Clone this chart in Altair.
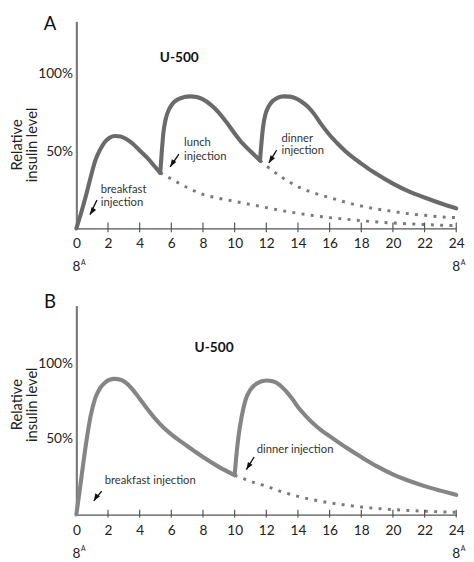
import altair as alt
import pandas as pd

# ---------------- data ----------------
hour_ticks = [2, 4, 6, 8, 10, 12, 14, 16, 18, 20, 22, 24]
hour_labels = [0, 2, 4, 6, 8, 10, 12, 14, 16, 18, 20, 22, 24]
pct_labels = [50, 100]

# Panel A: solid curve, three segments (breakfast, lunch, dinner)
a_seg1_x = [0, 0.3, 0.6, 0.9, 1.2, 1.5, 1.8, 2.1, 2.45, 2.8, 3.2, 3.6, 4.0, 4.5, 5.0, 5.3]
a_seg1_y = [0, 10, 21, 33, 44, 51, 56, 58.7, 59.8, 59.5, 57.5, 54.5, 50.5, 45.5, 39.5, 36]
a_seg2_x = [5.3, 5.4, 5.5, 5.65, 5.85, 6.1, 6.4, 6.8, 7.2, 7.6, 8.0, 8.5, 9.0, 9.5, 10.0, 10.5, 11.0, 11.6]
a_seg2_y = [36, 50, 62, 71, 77, 81, 83.5, 85, 85.5, 85, 83.5, 80, 75, 68.5, 61.5, 55, 50, 44]
a_seg3_x = [11.6, 11.7, 11.8, 11.95, 12.15, 12.4, 12.7, 13.1, 13.5, 13.9, 14.3, 14.7, 15.1, 15.5,
            16, 16.5, 17, 18, 19, 20, 21, 22, 23, 24]
a_seg3_y = [44, 56, 66, 74, 79, 82.5, 84.5, 85.5, 85.3, 84, 81.5, 78, 73, 67,
            60.5, 55, 50, 42, 35, 29, 24, 20, 16.3, 13]
# Panel A: dotted decay curves
a_dot1_x = [5.3, 6, 7, 8, 9, 10, 11, 12, 13, 14, 15, 16, 17, 18, 19, 20, 21, 22, 23, 24]
a_dot1_y = [36, 32, 26.5, 22, 19.5, 17.5, 15.5, 13.5, 11.5, 9.8, 8.3, 7, 6, 5, 4.2, 3.5, 3, 2.5, 2.1, 1.8]
a_dot2_x = [11.6, 12, 13, 14, 15, 16, 17, 18, 19, 20, 21, 22, 23, 24]
a_dot2_y = [44, 40.5, 33, 27, 23, 20, 17, 14.5, 12.5, 11, 9.5, 8.5, 7.5, 7]

# Panel B: solid curve, two segments (breakfast, dinner)
b_seg1_x = [0, 0.3, 0.6, 0.9, 1.2, 1.5, 1.8, 2.1, 2.4, 2.8, 3.2, 3.6, 4.0, 4.5, 5.0, 5.5,
            6, 6.5, 7, 7.5, 8, 9, 10]
b_seg1_y = [0, 23, 46, 65, 77, 83.5, 87, 89, 89.6, 89, 86.5, 82, 76.5, 69.5, 63, 57.5,
            53, 49, 45.3, 41.6, 38, 31.5, 26]
b_seg2_x = [10, 10.1, 10.25, 10.45, 10.7, 11.0, 11.4, 12.0, 12.4, 12.8, 13.2, 13.6, 14, 14.5,
            15, 15.5, 16, 17, 18, 19, 20, 21, 22, 23, 24]
b_seg2_y = [26, 38, 52, 65, 76, 82.5, 86.5, 88.5, 88, 86, 82, 77, 71, 65,
            59.8, 55.5, 51.8, 44.6, 38, 31.8, 26.5, 22.3, 18.8, 15.8, 13]
b_dot_x = [10, 11, 12, 13, 14, 15, 16, 17, 18, 19, 20, 21, 22, 23, 24]
b_dot_y = [26, 22, 18.7, 15, 12, 9.7, 7.8, 6.3, 5, 4, 3.3, 2.7, 2.2, 1.8, 1.5]

# Annotations
a_note_text = ["breakfast", "injection", "lunch", "injection", "dinner", "injection"]
a_note_x = [1.54, 1.54, 6.8, 6.8, 12.96, 12.96]
a_note_y = [24.7, 16.5, 55, 46, 58, 50]
a_arrow_x = [1.3, 6.48, 12.65]
a_arrow_y = [18.4, 48.1, 50.6]
a_arrow_x2 = [0.86, 5.93, 12.16]
a_arrow_y2 = [8.9, 39.9, 42.4]

b_note_text = ["breakfast injection", "dinner injection"]
b_note_x = [1.79, 11.4]
b_note_y = [22, 42.6]
b_arrow_x = [1.6, 11.23]
b_arrow_y = [15.5, 38]
b_arrow_x2 = [1.1, 10.74]
b_arrow_y2 = [9, 29.7]

FONT = "Lato"
ARROW = "M0,0 L0.55,1.5 L-0.55,1.5 Z"


def segs(*pairs):
    rows = []
    for i, (xs, ys) in enumerate(pairs):
        rows += [{"x": x, "y": y, "s": i} for x, y in zip(xs, ys)]
    return pd.DataFrame(rows)


def panel(solid, dots, notes, arrows, ymax, height, solid_color, u500, letter,
          letter_y, eight_y, tick_lo, tick_hi, title_y):
    xscale = alt.Scale(domain=[0, 24], nice=False, zero=False)
    yscale = alt.Scale(domain=[0, ymax], nice=False)
    xenc = alt.X("x:Q", scale=xscale,
                 axis=alt.Axis(values=hour_labels, ticks=False, grid=False, title=None,
                               labelFontSize=14, labelFont=FONT, labelColor="#222",
                               labelPadding=9, domainColor="#555", domainWidth=1.2,
                               labelFlush=False, labelOverlap=False, labelBound=False))
    yenc = alt.Y("y:Q", scale=yscale,
                 axis=alt.Axis(values=pct_labels, labelExpr="datum.value + '%'",
                               ticks=False, grid=False, labelFontSize=14, labelFont=FONT,
                               labelColor="#222", labelPadding=4, domainColor="#7a7a7a",
                               domainWidth=2.2, title=["Relative", "insulin level"],
                               titleFont=FONT, titleFontSize=15, titleFontWeight="normal",
                               titleColor="#222", titleLineHeight=15, titleX=-61,
                               titleY=title_y, titleAngle=-90, titleAlign="center",
                               titleBaseline="middle"))

    dotted = alt.Chart(dots).mark_line(
        color="#7a7a7a", strokeWidth=3, strokeDash=[3, 6.5], interpolate="monotone"
    ).encode(x=xenc, y=yenc, detail="s:N")

    curve = alt.Chart(solid).mark_line(
        color=solid_color, strokeWidth=4.2, interpolate="monotone",
        strokeCap="round", strokeJoin="round"
    ).encode(x=xenc, y=yenc, detail="s:N")

    ticks = alt.Chart(pd.DataFrame({"x": hour_ticks})).transform_calculate(
        y=str(tick_lo), y2=str(tick_hi)
    ).mark_rule(color="#555", strokeWidth=1.2).encode(x=xenc, y=yenc, y2="y2:Q")

    note = alt.Chart(notes).mark_text(
        align="left", baseline="middle", font=FONT, fontSize=11.5, color="#333"
    ).encode(x=xenc, y=yenc, text="t:N")

    arrow_line = alt.Chart(arrows).mark_rule(color="#111", strokeWidth=1.4).encode(
        x=xenc, y=yenc, x2="x2:Q", y2="y2:Q")
    tips = pd.DataFrame({"x": arrows["x2"], "y": arrows["y2"]})
    arrow_head = alt.Chart(tips).mark_point(
        shape=ARROW, filled=True, color="#111", size=100, angle=212, opacity=1
    ).encode(x=xenc, y=yenc)

    u = alt.Chart(pd.DataFrame({"x": [u500[0]], "y": [u500[1]], "t": ["U-500"]})).mark_text(
        font=FONT, fontSize=14, fontWeight="bold", color="#111"
    ).encode(x=xenc, y=yenc, text="t:N")

    lab = alt.Chart(pd.DataFrame({"x": [-1.67], "y": [letter_y], "t": [letter]})).mark_text(
        font=FONT, fontSize=19, color="#111", baseline="top"
    ).encode(x=xenc, y=yenc, text="t:N")

    eights = pd.DataFrame({"x": [0, 24], "y": [eight_y, eight_y]})
    e8 = alt.Chart(eights).mark_text(font=FONT, fontSize=14, color="#222").encode(
        x=xenc, y=yenc, text=alt.value("8"))
    eA = alt.Chart(eights).mark_text(font=FONT, fontSize=7, color="#222", dx=7, dy=-5).encode(
        x=xenc, y=yenc, text=alt.value("A"))

    return alt.layer(dotted, curve, ticks, note, arrow_line, arrow_head, u, e8, eA,
                     lab).properties(width=389, height=height)


dfA_solid = segs((a_seg1_x, a_seg1_y), (a_seg2_x, a_seg2_y), (a_seg3_x, a_seg3_y))
dfA_dots = segs((a_dot1_x, a_dot1_y), (a_dot2_x, a_dot2_y))
dfA_notes = pd.DataFrame({"x": a_note_x, "y": a_note_y, "t": a_note_text})
dfA_arrows = pd.DataFrame({"x": a_arrow_x, "y": a_arrow_y, "x2": a_arrow_x2, "y2": a_arrow_y2})

dfB_solid = segs((b_seg1_x, b_seg1_y), (b_seg2_x, b_seg2_y))
dfB_dots = segs((b_dot_x, b_dot_y))
dfB_notes = pd.DataFrame({"x": b_note_x, "y": b_note_y, "t": b_note_text})
dfB_arrows = pd.DataFrame({"x": b_arrow_x, "y": b_arrow_y, "x2": b_arrow_x2, "y2": b_arrow_y2})

panelA = panel(dfA_solid, dfA_dots, dfA_notes, dfA_arrows, 134, 212, "#6a6a6a",
               (6.5, 110), "A", 138, -25.3, -2.5, 3.8, 126)
panelB = panel(dfB_solid, dfB_dots, dfB_notes, dfB_arrows, 138, 214, "#858585",
               (8.7, 110), "B", 146, -25.8, -2, 3.2, 101)

chart = alt.vconcat(panelA, panelB, spacing=18).properties(
    padding={"left": 2, "top": 0, "right": 0, "bottom": 0}
).configure_view(stroke=None).configure_axis(labelOverlap=False)

chart.save("out.html", embed_options={"renderer": "svg", "actions": False})
